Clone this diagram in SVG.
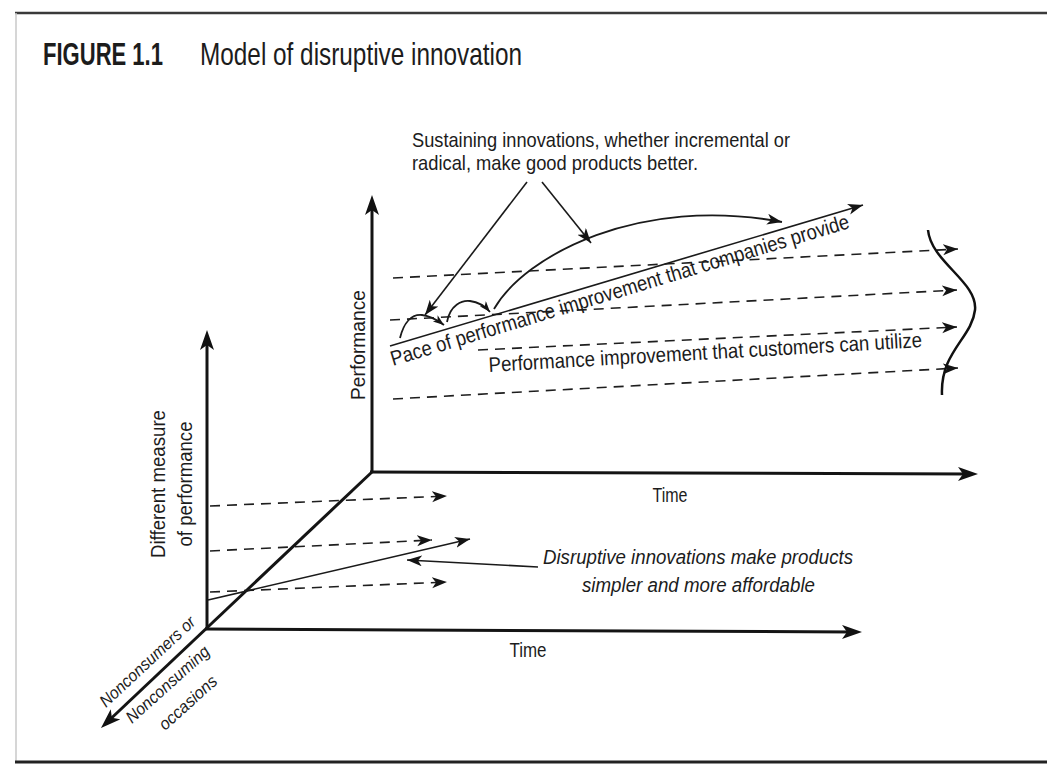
<svg xmlns="http://www.w3.org/2000/svg" width="1047" height="778" viewBox="0 0 1047 778">
  <style>
    .t { font-family: "Liberation Sans", Arial, sans-serif; fill: #1c1c1c; }
    .lbl { font-size: 21px; }
    .it { font-style: italic; font-size: 20px; }
    .axis { stroke: #141414; stroke-width: 3; fill: none; }
    .dash { stroke: #1e1e1e; stroke-width: 1.6; stroke-dasharray: 10 7; fill: none; }
    .solid { stroke: #1a1a1a; stroke-width: 1.6; fill: none; }
    .curve { stroke: #1a1a1a; stroke-width: 1.8; fill: none; }
  </style>
  <defs>
    <marker id="ah" markerUnits="userSpaceOnUse" markerWidth="17" markerHeight="12" refX="15" refY="5.5" orient="auto">
      <path d="M0,0 L15,5.5 L0,11 L4,5.5 z" fill="#141414"/>
    </marker>
    <marker id="ahSmall" markerUnits="userSpaceOnUse" markerWidth="14" markerHeight="10" refX="11" refY="4" orient="auto">
      <path d="M0,0 L11,4 L0,8 L3,4 z" fill="#141414"/>
    </marker>
    <marker id="ahBig" markerUnits="userSpaceOnUse" markerWidth="22" markerHeight="16" refX="12" refY="7" orient="auto">
      <path d="M0,0 L20,7 L0,14 L5,7 z" fill="#111"/>
    </marker>
  </defs>

  <rect width="1047" height="778" fill="#ffffff"/>

  <!-- page frame -->
  <g id="frame">
    <line x1="15" y1="13" x2="1047" y2="13" stroke="#3a3a3a" stroke-width="2.5"/>
    <line x1="16" y1="13" x2="16" y2="762" stroke="#c8c8c8" stroke-width="1.5"/>
    <line x1="15" y1="762" x2="1047" y2="762" stroke="#222" stroke-width="3"/>
  </g>

  <!-- heading -->
  <g id="title">
    <text class="t" x="43" y="65" font-size="32" font-weight="bold" textLength="120" lengthAdjust="spacingAndGlyphs">FIGURE 1.1</text>
    <text class="t" x="200" y="65" font-size="32" textLength="322" lengthAdjust="spacingAndGlyphs">Model of disruptive innovation</text>
  </g>

  <!-- axes -->
  <g id="axes">
    <path class="axis" d="M372,472 L372,203" marker-end="url(#ahBig)"/>
    <path class="axis" d="M370,472 L970,474" marker-end="url(#ahBig)"/>
    <path class="axis" d="M207,630 L207,338" marker-end="url(#ahBig)"/>
    <path class="axis" d="M205,629 L854,632" marker-end="url(#ahBig)"/>
    <path class="axis" d="M373,471 L106.8,722.5" marker-end="url(#ahBig)"/>
  </g>

  <!-- connectors -->
  <g id="connectors">
    <!-- upper plane: customer demand trajectories -->
    <path class="dash" d="M393,278 L958,249" marker-end="url(#ah)"/>
    <path class="dash" d="M390,320 L957,290" marker-end="url(#ah)"/>
    <path class="dash" d="M478,350 L957,327" marker-end="url(#ah)"/>
    <path class="dash" d="M393,399 L958,368" marker-end="url(#ah)"/>
    <!-- technology trajectory -->
    <path class="solid" d="M390,346 L863,205" marker-end="url(#ah)"/>
    <!-- sustaining innovation jumps -->
    <path class="curve" d="M400,338 C404,322 412,314 422,315 C430,316 436,319 444,325" marker-end="url(#ahSmall)"/>
    <path class="curve" d="M447,322 C450,305 462,300 470,301 C478,302 484,305 490,312" marker-end="url(#ahSmall)"/>
    <path class="curve" d="M494,309 C525,255 640,195 782,222" marker-end="url(#ah)"/>
    <!-- callout pointers -->
    <path class="solid" d="M527,182 L425,315" marker-end="url(#ah)"/>
    <path class="solid" d="M542,182 L591,243" marker-end="url(#ah)"/>
    <!-- spread of customer needs -->
    <path d="M928,230 C931,262 978,282 975,310 C972,338 940,352 942,395" fill="none" stroke="#111" stroke-width="2.5"/>
    <!-- lower plane -->
    <path class="dash" d="M210,506 L447,496" marker-end="url(#ah)"/>
    <path class="dash" d="M210,551 L432,540" marker-end="url(#ah)"/>
    <path class="dash" d="M210,592 L447,582" marker-end="url(#ah)"/>
    <path class="solid" d="M208,600 L470,539" marker-end="url(#ah)"/>
    <path class="solid" d="M538,567 L407,560" marker-end="url(#ah)"/>
  </g>

  <!-- labels -->
  <g id="sustaining-label">
    <text class="t lbl" x="412" y="147" textLength="378" lengthAdjust="spacingAndGlyphs">Sustaining innovations, whether incremental or</text>
    <text class="t lbl" x="412" y="170" textLength="286" lengthAdjust="spacingAndGlyphs">radical, make good products better.</text>
  </g>
  <g id="pace-label">
    <text class="t lbl" transform="translate(393,366) rotate(-16.8)" textLength="478" lengthAdjust="spacingAndGlyphs">Pace of performance improvement that companies provide</text>
  </g>
  <g id="customer-label">
    <text class="t lbl" transform="translate(489,372) rotate(-3.3)" textLength="434" lengthAdjust="spacingAndGlyphs">Performance improvement that customers can utilize</text>
  </g>
  <g id="performance-axis-label">
    <text class="t lbl" transform="translate(365,345) rotate(-90)" text-anchor="middle" textLength="110" lengthAdjust="spacingAndGlyphs">Performance</text>
  </g>
  <g id="upper-time-label">
    <text class="t lbl" x="670" y="502" text-anchor="middle" textLength="35" lengthAdjust="spacingAndGlyphs">Time</text>
  </g>
  <g id="different-measure-label">
    <text class="t lbl" transform="translate(165,484) rotate(-90)" text-anchor="middle" textLength="148" lengthAdjust="spacingAndGlyphs">Different measure</text>
    <text class="t lbl" transform="translate(192,484) rotate(-90)" text-anchor="middle" textLength="125" lengthAdjust="spacingAndGlyphs">of performance</text>
  </g>
  <g id="lower-time-label">
    <text class="t lbl" x="528" y="657" text-anchor="middle" textLength="37" lengthAdjust="spacingAndGlyphs">Time</text>
  </g>
  <g id="disruptive-label">
    <text class="t it" x="543" y="564" textLength="310" lengthAdjust="spacingAndGlyphs">Disruptive innovations make products</text>
    <text class="t it" x="582" y="592" textLength="233" lengthAdjust="spacingAndGlyphs">simpler and more affordable</text>
  </g>
  <g id="nonconsumers-label">
    <text class="t" font-style="italic" font-size="17" transform="translate(106,708) rotate(-43)" textLength="124" lengthAdjust="spacingAndGlyphs">Nonconsumers or</text>
    <text class="t" font-style="italic" font-size="17" transform="translate(132,724) rotate(-42)" textLength="106" lengthAdjust="spacingAndGlyphs">Nonconsuming</text>
    <text class="t" font-style="italic" font-size="17" transform="translate(165,731) rotate(-42)" textLength="72" lengthAdjust="spacingAndGlyphs">occasions</text>
  </g>
</svg>
